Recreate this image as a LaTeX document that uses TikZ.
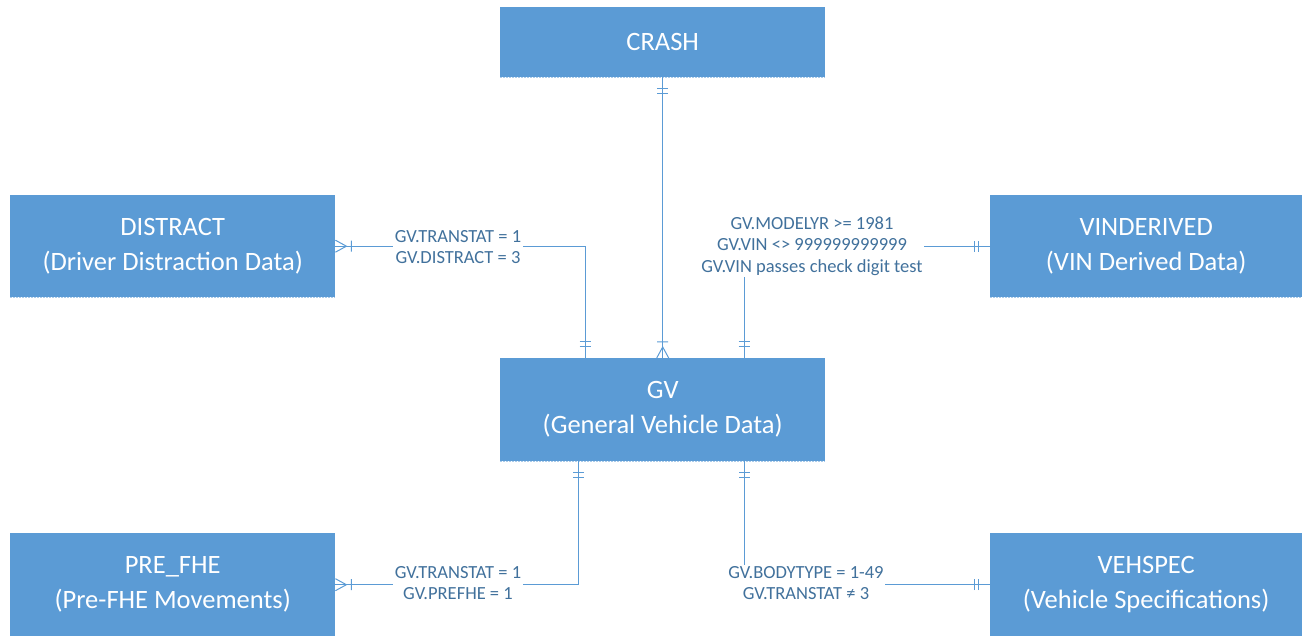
\documentclass[tikz,border=0pt]{standalone}
\usepackage{fontspec}
\setmainfont{Carlito}
\usetikzlibrary{calc}
\definecolor{boxblue}{HTML}{5B9BD5}
\definecolor{lineblue}{HTML}{5B9BD5}
\definecolor{edgeblue}{HTML}{A9CBEA}
\definecolor{labelblue}{HTML}{41719C}
\tikzset{
  entity/.style={rectangle, fill=boxblue, draw=none, inner sep=0pt, anchor=north west,
    text=white, align=center, font=\fontsize{26.5}{35}\selectfont},
  conn/.style={draw=lineblue, line width=1pt},
  cond/.style={fill=white, text=labelblue, inner sep=1.5pt, align=center,
    font=\fontsize{18.5}{21.5}\selectfont},
  boxedge/.style={draw=edgeblue, line width=1.3pt, dash pattern=on 1.5pt off 1.5pt},
  oneone/.pic={\draw[conn] (11.5,-5.5)--(11.5,5.5) (16,-5.5)--(16,5.5);},
  onemany/.pic={\draw[conn] (0,-6)--(11,0)--(0,6) (16,-5.5)--(16,5.5);}
}
\begin{document}
\begin{tikzpicture}[x=1pt,y=-1pt]
\useasboundingbox (0,0) rectangle (1302,636);
% entities
\node[entity, minimum width=325pt, minimum height=70pt] (CRASH) at (500,7) {CRASH};
\node[entity, minimum width=325pt, minimum height=102pt] (DISTRACT) at (10,195) {DISTRACT\\(Driver Distraction Data)};
\node[entity, minimum width=312pt, minimum height=102pt] (VIN) at (990,195) {VINDERIVED\\(VIN Derived Data)};
\node[entity, minimum width=325pt, minimum height=103pt] (GV) at (500,358) {GV\\(General Vehicle Data)};
\node[entity, minimum width=325pt, minimum height=103pt] (PRE) at (10,533) {PRE\_FHE\\(Pre-FHE Movements)};
\node[entity, minimum width=312pt, minimum height=103pt] (VEH) at (990,533) {VEHSPEC\\(Vehicle Specifications)};
\foreach \b in {CRASH,DISTRACT,VIN,GV,PRE,VEH}
  \draw[boxedge] (\b.south west) -- (\b.south east);
% connectors
\coordinate (gvA) at ($(GV.north west)+(85,0)$);
\coordinate (gvB) at ($(GV.north west)+(244,0)$);
\coordinate (gvC) at ($(GV.south west)+(78,0)$);
\coordinate (gvD) at ($(GV.south west)+(244,0)$);
\draw[conn] (CRASH.south) -- (GV.north);
\draw[conn] (DISTRACT.east) -| (gvA);
\draw[conn] (gvB) |- (VIN.west);
\draw[conn] (gvC) |- (PRE.east);
\draw[conn] (gvD) |- (VEH.west);
% cardinality marks
\pic[rotate=-90] at (CRASH.south) {oneone};
\pic[rotate=90] at (GV.north) {onemany};
\pic at (DISTRACT.east) {onemany};
\pic[rotate=90] at (gvA) {oneone};
\pic[rotate=90] at (gvB) {oneone};
\pic[rotate=180] at (VIN.west) {oneone};
\pic[rotate=-90] at (gvC) {oneone};
\pic at (PRE.east) {onemany};
\pic[rotate=-90] at (gvD) {oneone};
\pic[rotate=180] at (VEH.west) {oneone};
% condition labels
\node[cond] (c1) at (458,247) {GV.TRANSTAT = 1\\GV.DISTRACT = 3};
\node[cond] (c2) at (812,246) {GV.MODELYR >= 1981\\GV.VIN <> 999999999999\\GV.VIN passes check digit test};
\node[cond] (c3) at (458,583) {GV.TRANSTAT = 1\\GV.PREFHE = 1};
\node[cond] (c4) at (806,583) {GV.BODYTYPE = 1-49\\GV.TRANSTAT ≠ 3};
\end{tikzpicture}
\end{document}
